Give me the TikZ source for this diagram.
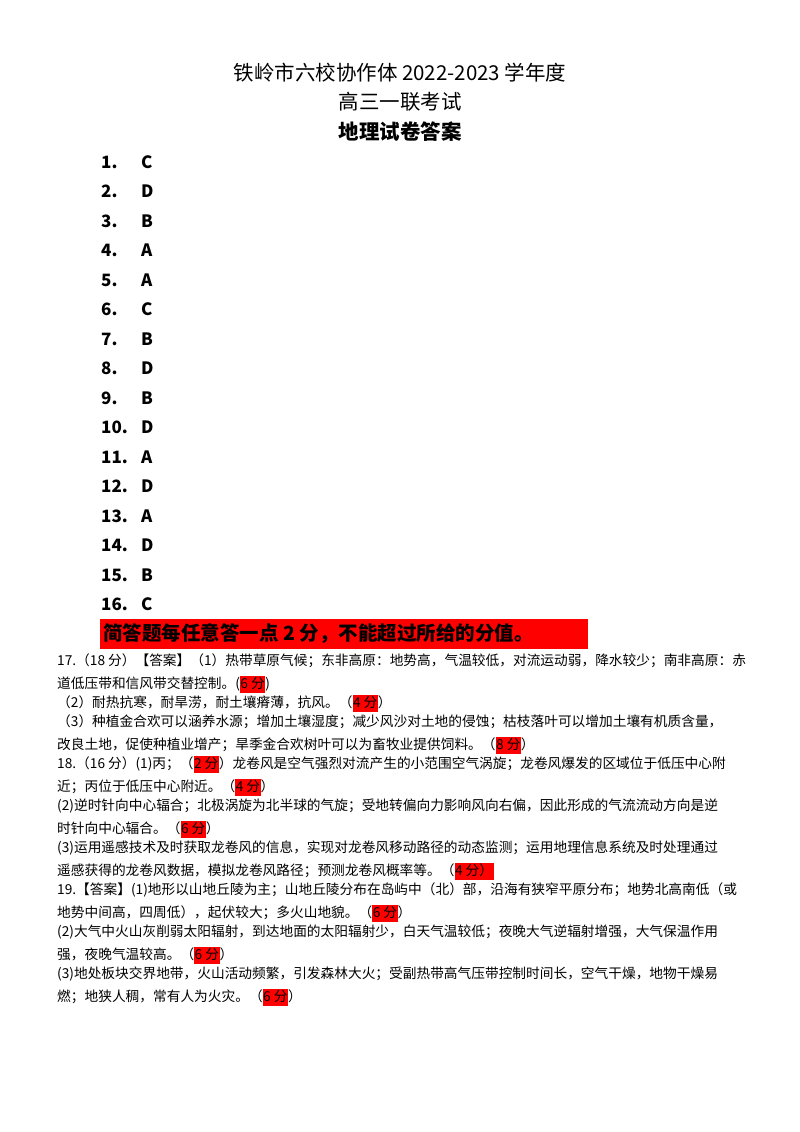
\documentclass[tikz,border=0pt]{standalone}
\usepackage{fontspec}
\setmainfont{Noto Sans CJK SC}
\newcommand{\hl}[1]{{\setlength{\fboxsep}{0.5pt}\colorbox{red}{\rule[-4pt]{0pt}{16pt}#1}}}
\begin{document}
\begin{tikzpicture}[x=1pt,y=-1pt,
  ln/.style={anchor=west,inner sep=0pt,font=\fontsize{13.7}{16}\selectfont},
  ans/.style={anchor=west,inner sep=0pt,font=\fontsize{17}{20}\selectfont\bfseries},
  ttl/.style={inner sep=0pt}]
\useasboundingbox[fill=white] (0,0) rectangle (800,1132);
\node[ttl,font=\fontsize{20.5}{24}\selectfont] (t1) at (400,73) {铁岭市六校协作体 2022-2023 学年度};
\node[ttl,font=\fontsize{20.5}{24}\selectfont] (t2) at (400,102) {高三一联考试};
\node[ttl,font=\fontsize{20.5}{24}\selectfont\bfseries] (t3) at (400,132) {地理试卷答案};
\foreach \n/\a [count=\i from 0] in {1/C,2/D,3/B,4/A,5/A,6/C,7/B,8/D,9/B,10/D,11/A,12/D,13/A,14/D,15/B,16/C}{
  \node[ans] (n\n) at (101,162+29.5*\i) {\n.};
  \node[ans] (a\n) at (141,162+29.5*\i) {\a};
}
\fill[red] (100,619) rectangle (588,649);
\node[anchor=west,inner sep=0pt,font=\fontsize{19.5}{22}\selectfont\bfseries] (bn) at (103,634) {简答题每任意答一点 2 分，不能超过所给的分值。};
\node[ln] (l1) at (57,661) {17.（18 分）【答案】（1）热带草原气候；东非高原：地势高，气温较低，对流运动弱，降水较少；南非高原：赤};
\node[ln] (l2) at (57,684) {道低压带和信风带交替控制。(\hl{6 分})};
\node[ln] (l3) at (57,703) {（2）耐热抗寒，耐旱涝，耐土壤瘠薄，抗风。（\hl{4 分}）};
\node[ln] (l4) at (57,722) {（3）种植金合欢可以涵养水源；增加土壤湿度；减少风沙对土地的侵蚀；枯枝落叶可以增加土壤有机质含量，};
\node[ln] (l5) at (57,745) {改良土地，促使种植业增产；旱季金合欢树叶可以为畜牧业提供饲料。（\hl{8 分}）};
\node[ln] (l6) at (57,764) {18.（16 分）(1)丙；（\hl{2 分}）龙卷风是空气强烈对流产生的小范围空气涡旋；龙卷风爆发的区域位于低压中心附};
\node[ln] (l7) at (57,787) {近；丙位于低压中心附近。（\hl{4 分}）};
\node[ln] (l8) at (57,806) {(2)逆时针向中心辐合；北极涡旋为北半球的气旋；受地转偏向力影响风向右偏，因此形成的气流流动方向是逆};
\node[ln] (l9) at (57,829) {时针向中心辐合。（\hl{6 分}）};
\node[ln] (l10) at (57,848) {(3)运用遥感技术及时获取龙卷风的信息，实现对龙卷风移动路径的动态监测；运用地理信息系统及时处理通过};
\node[ln] (l11) at (57,871) {遥感获得的龙卷风数据，模拟龙卷风路径；预测龙卷风概率等。（\hl{4 分）}};
\node[ln] (l12) at (57,890) {19.【答案】(1)地形以山地丘陵为主；山地丘陵分布在岛屿中（北）部，沿海有狭窄平原分布；地势北高南低（或};
\node[ln] (l13) at (57,913) {地势中间高，四周低），起伏较大；多火山地貌。（\hl{6 分}）};
\node[ln] (l14) at (57,932) {(2)大气中火山灰削弱太阳辐射，到达地面的太阳辐射少，白天气温较低；夜晚大气逆辐射增强，大气保温作用};
\node[ln] (l15) at (57,955) {强，夜晚气温较高。（\hl{6 分}）};
\node[ln] (l16) at (57,974) {(3)地处板块交界地带，火山活动频繁，引发森林大火；受副热带高气压带控制时间长，空气干燥，地物干燥易};
\node[ln] (l17) at (57,997) {燃；地狭人稠，常有人为火灾。（\hl{6 分}）};
\end{tikzpicture}
\end{document}
